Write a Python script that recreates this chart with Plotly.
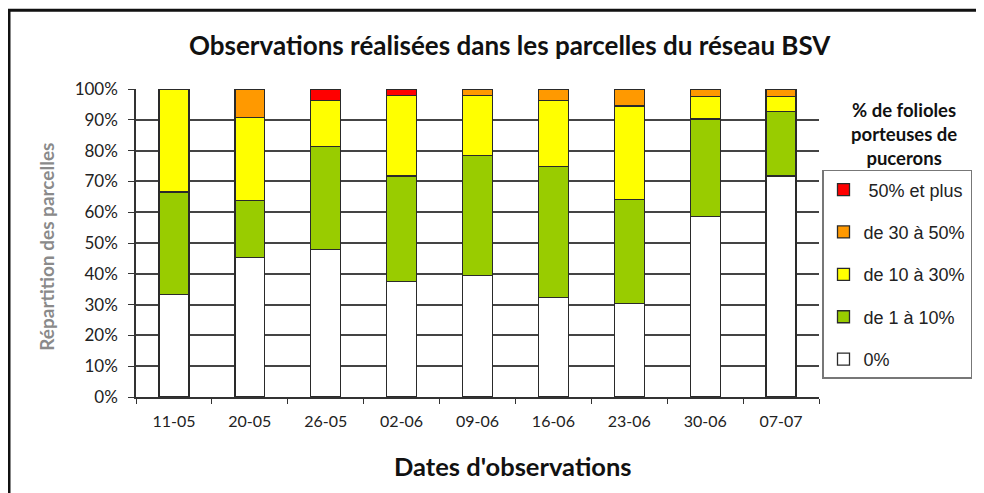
import plotly.graph_objects as go

dates = ["11-05", "20-05", "26-05", "02-06", "09-06", "16-06", "23-06", "30-06", "07-07"]
zero = [33.3, 45.4, 47.9, 37.6, 39.4, 32.4, 30.3, 58.6, 71.8]
one_ten = [33.3, 18.4, 33.4, 34.2, 38.9, 42.4, 33.9, 31.7, 21.0]
ten_thirty = [33.4, 26.9, 14.9, 26.1, 19.6, 21.4, 30.3, 7.2, 4.7]
thirty_fifty = [0, 9.3, 0, 0, 2.1, 3.8, 5.5, 2.5, 2.5]
fifty_plus = [0, 0, 3.8, 2.1, 0, 0, 0, 0, 0]

series = [
    ("0%", zero, "#FFFFFF"),
    ("de 1 à 10%", one_ten, "#99CC00"),
    ("de 10 à 30%", ten_thirty, "#FFFF00"),
    ("de 30 à 50%", thirty_fifty, "#FF9900"),
    (" 50% et plus", fifty_plus, "#FF0000"),
]

fig = go.Figure()
for i, (name, vals, col) in enumerate(series):
    fig.add_trace(go.Bar(
        x=dates, y=[v if v else None for v in vals], name=name,
        legendgroup=name, legendrank=1000 - i,
        marker=dict(color=col, line=dict(color="#2a2a2a", width=1.3)),
        hoverinfo="x+y+name",
    ))

# The page body has an 8px margin: figure coordinates = page coordinates - 8
OFF = 8
W, H = 984, 493
PL, PR, PT, PB = 136, 819, 89, 397.5   # plot area in page pixels
pw, ph = PR - PL, PB - PT

def px(x):
    return (x - PL) / pw

def py(y):
    return (PB - y) / ph

calibri = "Lato, Carlito, Calibri, sans-serif"

fig.update_layout(
    width=W, height=H,
    margin=dict(l=PL - OFF, r=W - (PR - OFF), t=PT - OFF, b=H - (PB - OFF)),
    barmode="stack",
    bargap=0.605,
    paper_bgcolor="white",
    plot_bgcolor="white",
    xaxis=dict(
        type="category", showline=True, linecolor="#333333", linewidth=1.5,
        ticks="outside", ticklen=5, tickcolor="#333333", tickwidth=1.3,
        tickson="boundaries", showgrid=False,
        tickfont=dict(family=calibri, size=16, color="#222222"),
        ticklabelstandoff=9,
    ),
    yaxis=dict(
        range=[0, 100], dtick=10, ticksuffix="%",
        showline=True, linecolor="#333333", linewidth=1.5,
        ticks="outside", ticklen=6, tickcolor="#333333", tickwidth=1.3,
        showgrid=True, gridcolor="#444444", gridwidth=1.5,
        tickfont=dict(family=calibri, size=17, color="#222222"),
        ticklabelstandoff=7, zeroline=False,
    ),
    legend=dict(
        x=px(822), y=py(170), xanchor="left", yanchor="top",
        bordercolor="#777777", borderwidth=1.5, bgcolor="white",
        font=dict(family="Liberation Sans, Arial, sans-serif", size=18, color="#222222"),
        traceorder="grouped", tracegroupgap=16,
        entrywidth=112, entrywidthmode="pixels",
        itemclick=False, itemdoubleclick=False,
    ),
    showlegend=True,
)

fig.add_annotation(
    text="<b>Observations réalisées dans les parcelles du réseau BSV</b>",
    xref="paper", yref="paper", x=px(510), y=py(45), xanchor="center", yanchor="middle",
    showarrow=False, font=dict(family=calibri, size=26, color="#111111"),
)
fig.add_annotation(
    text="<b>Dates d'observations</b>",
    xref="paper", yref="paper", x=px(513), y=py(467), xanchor="center", yanchor="middle",
    showarrow=False, font=dict(family=calibri, size=25.5, color="#111111"),
)
fig.add_annotation(
    text="<b>Répartition des parcelles</b>",
    xref="paper", yref="paper", x=px(47), y=py(247), xanchor="center", yanchor="middle",
    textangle=-90, showarrow=False,
    font=dict(family=calibri, size=19, color="#8a8a8a"),
)
fig.add_annotation(
    text="<b>% de folioles<br>porteuses de<br>pucerons</b>",
    xref="paper", yref="paper", x=px(904), y=py(134), xanchor="center", yanchor="middle",
    showarrow=False, align="center",
    font=dict(family=calibri, size=18.5, color="#111111"),
)
# outer chart frame
fig.add_shape(
    type="rect", xref="paper", yref="paper",
    x0=px(9), x1=px(1010), y0=py(520), y1=py(10),
    line=dict(color="#111111", width=3), fillcolor="rgba(0,0,0,0)", layer="above",
)

fig.write_html("out.html")
